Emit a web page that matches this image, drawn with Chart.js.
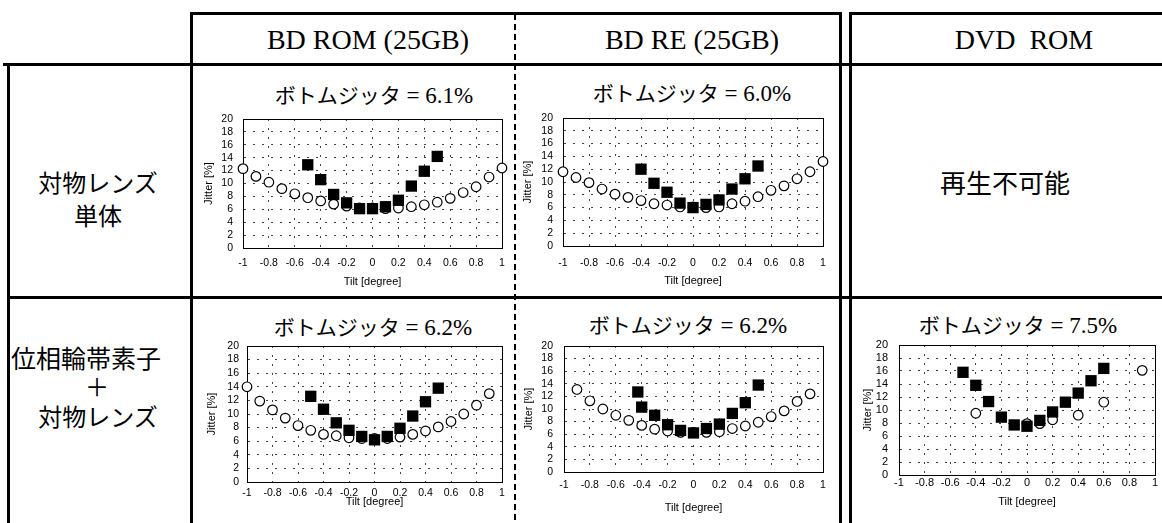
<!DOCTYPE html>
<html>
<head>
<meta charset="utf-8">
<script src="https://cdn.jsdelivr.net/npm/chart.js@4.4.1/dist/chart.umd.min.js"></script>
<style>
  html, body { margin: 0; padding: 0; background: #fff; }
  #page { position: relative; width: 1162px; height: 523px; overflow: hidden; background: #fff; }
  .ln { position: absolute; background: #000; }
  .dash { position: absolute; width: 2px;
          background: repeating-linear-gradient(to bottom, #000 0 6px, transparent 6px 10px); }
  .txt { position: absolute; transform: translate(-50%, -50%); white-space: pre; line-height: 1; color: #000; }
  .hd { font-family: "Liberation Serif", "Times New Roman", serif; font-size: 28px; }
  .jp { font-family: "Noto Sans CJK JP", sans-serif; }
  span.k { font-family: "Noto Sans CJK JP", sans-serif; font-size: 21px; }
  span.v { font-family: "Liberation Serif", "Times New Roman", serif; font-size: 23px; }
  canvas.plot { position: absolute; }
</style>
</head>
<body>
<div id="page">
  <!-- table frame -->
  <div class="ln" style="left:190px;top:12px;width:652px;height:3px"></div>
  <div class="ln" style="left:190px;top:12px;width:3px;height:511px"></div>
  <div class="ln" style="left:839px;top:12px;width:3px;height:511px"></div>
  <div class="ln" style="left:849px;top:12px;width:313px;height:3px"></div>
  <div class="ln" style="left:849px;top:12px;width:3px;height:511px"></div>
  <div class="ln" style="left:3px;top:63px;width:1159px;height:3px"></div>
  <div class="ln" style="left:7px;top:296px;width:1155px;height:3px"></div>
  <div class="ln" style="left:7px;top:63px;width:3px;height:460px"></div>
  <div class="dash" style="left:514px;top:14px;height:509px"></div>

  <!-- column headers -->
  <div class="txt hd" style="left:368px;top:40px">BD ROM (25GB)</div>
  <div class="txt hd" style="left:692px;top:40px">BD RE (25GB)</div>
  <div class="txt hd" style="left:1024px;top:40px">DVD  ROM</div>

  <!-- row headers -->
  <div class="txt jp" style="left:98px;top:182px;font-size:24px">対物レンズ</div>
  <div class="txt jp" style="left:98px;top:215px;font-size:24px">単体</div>
  <div class="txt jp" style="left:86px;top:357px;font-size:25px">位相輪帯素子</div>
  <div class="txt jp" style="left:97px;top:386px;font-size:24px">＋</div>
  <div class="txt jp" style="left:98px;top:416px;font-size:24px">対物レンズ</div>
  <div class="txt jp" style="left:1005px;top:182px;font-size:26px">再生不可能</div>

  <!-- panel titles -->
  <div class="txt" id="t0" style="left:374px;top:95px"></div>
  <div class="txt" id="t1" style="left:692px;top:93px"></div>
  <div class="txt" id="t2" style="left:373px;top:327px"></div>
  <div class="txt" id="t3" style="left:688px;top:325px"></div>
  <div class="txt" id="t4" style="left:1018px;top:325px"></div>

  <canvas class="plot" id="c0" width="323" height="194" style="left:199px;top:99px"></canvas>
  <canvas class="plot" id="c1" width="324" height="194" style="left:519px;top:98px"></canvas>
  <canvas class="plot" id="c2" width="319" height="187" style="left:203px;top:326px"></canvas>
  <canvas class="plot" id="c3" width="323" height="193" style="left:520px;top:326px"></canvas>
  <canvas class="plot" id="c4" width="320" height="188" style="left:855px;top:325px"></canvas>
</div>

<script>
// Axis ticks
const tiltTicks = [-1, -0.8, -0.6, -0.4, -0.2, 0, 0.2, 0.4, 0.6, 0.8, 1];
const tiltTickLabels = ['-1', '-0.8', '-0.6', '-0.4', '-0.2', '0', '0.2', '0.4', '0.6', '0.8', '1'];
const jitterTicks = [0, 2, 4, 6, 8, 10, 12, 14, 16, 18, 20];
const jitterTickLabels = ['0', '2', '4', '6', '8', '10', '12', '14', '16', '18', '20'];

// Bottom jitter [%] per panel
const bottomJitter = [6.1, 6.0, 6.2, 6.2, 7.5];

// BD ROM, objective lens only
const bdRomLensCircleTilt = [-1.0, -0.9, -0.8, -0.7, -0.6, -0.5, -0.4, -0.3, -0.2, -0.1, 0, 0.1, 0.2, 0.3, 0.4, 0.5, 0.6, 0.7, 0.8, 0.9, 1.0];
const bdRomLensCircle     = [12.3, 11.1, 10.2, 9.2, 8.4, 7.8, 7.3, 6.8, 6.5, 6.2, 6.2, 6.1, 6.2, 6.4, 6.7, 7.1, 7.7, 8.6, 9.5, 11.0, 12.4];
const bdRomLensSquareTilt = [-0.5, -0.4, -0.3, -0.2, -0.1, 0, 0.1, 0.2, 0.3, 0.4, 0.5];
const bdRomLensSquare     = [12.9, 10.6, 8.3, 7.0, 6.1, 6.1, 6.4, 7.4, 9.6, 11.9, 14.2];

// BD RE, objective lens only
const bdReLensCircleTilt = [-1.0, -0.9, -0.8, -0.7, -0.6, -0.5, -0.4, -0.3, -0.2, -0.1, 0, 0.1, 0.2, 0.3, 0.4, 0.5, 0.6, 0.7, 0.8, 0.9, 1.0];
const bdReLensCircle     = [11.6, 10.7, 9.9, 8.9, 8.1, 7.6, 7.1, 6.6, 6.4, 6.1, 6.1, 6.0, 6.1, 6.6, 7.0, 7.7, 8.7, 9.4, 10.5, 11.6, 13.2];
const bdReLensSquareTilt = [-0.4, -0.3, -0.2, -0.1, 0, 0.1, 0.2, 0.3, 0.4, 0.5];
const bdReLensSquare     = [12.0, 9.8, 8.4, 6.7, 6.0, 6.5, 7.2, 8.9, 10.5, 12.5];

// BD ROM, zone plate + objective lens
const bdRomZoneCircleTilt = [-1.0, -0.9, -0.8, -0.7, -0.6, -0.5, -0.4, -0.3, -0.2, -0.1, 0, 0.1, 0.2, 0.3, 0.4, 0.5, 0.6, 0.7, 0.8, 0.9];
const bdRomZoneCircle     = [14.0, 11.9, 10.6, 9.4, 8.3, 7.6, 7.0, 6.8, 6.5, 6.4, 6.4, 6.4, 6.6, 7.0, 7.5, 8.1, 8.9, 10.0, 11.3, 13.0];
const bdRomZoneSquareTilt = [-0.5, -0.4, -0.3, -0.2, -0.1, 0, 0.1, 0.2, 0.3, 0.4, 0.5];
const bdRomZoneSquare     = [12.6, 10.7, 8.7, 7.6, 6.7, 6.2, 6.7, 7.9, 9.7, 11.8, 13.8];

// BD RE, zone plate + objective lens
const bdReZoneCircleTilt = [-0.9, -0.8, -0.7, -0.6, -0.5, -0.4, -0.3, -0.2, -0.1, 0, 0.1, 0.2, 0.3, 0.4, 0.5, 0.6, 0.7, 0.8, 0.9];
const bdReZoneCircle     = [13.1, 11.3, 10.0, 9.0, 8.2, 7.4, 6.8, 6.5, 6.3, 6.3, 6.3, 6.4, 6.9, 7.3, 7.9, 8.8, 9.7, 11.2, 12.4];
const bdReZoneSquareTilt = [-0.43, -0.4, -0.3, -0.2, -0.1, 0, 0.1, 0.2, 0.3, 0.4, 0.5];
const bdReZoneSquare     = [12.7, 10.3, 9.0, 7.5, 6.6, 6.2, 6.9, 7.6, 9.3, 11.0, 13.8];

// DVD ROM, zone plate + objective lens
const dvdZoneCircleTilt = [-0.4, 0, 0.1, 0.2, 0.4, 0.6, 0.9];
const dvdZoneCircle     = [9.5, 7.9, 7.9, 8.5, 9.2, 11.2, 16.1];
const dvdZoneSquareTilt = [-0.5, -0.4, -0.3, -0.2, -0.1, 0, 0.1, 0.2, 0.3, 0.4, 0.5, 0.6];
const dvdZoneSquare     = [15.8, 13.8, 11.3, 8.9, 7.7, 7.5, 8.4, 9.7, 11.2, 12.6, 14.5, 16.4];

// Panel titles
bottomJitter.forEach((v, i) => {
  document.getElementById('t' + i).innerHTML =
    '<span class="k">ボトムジッタ</span><span class="v"> = ' + v.toFixed(1) + '%</span>';
});

// Solid frame round the plot area
const plotFrame = {
  id: 'plotFrame',
  beforeDatasetsDraw(chart) {
    const { ctx, chartArea: a } = chart;
    ctx.save();
    ctx.strokeStyle = '#000';
    ctx.lineWidth = 1;
    ctx.strokeRect(Math.round(a.left) + 0.5, Math.round(a.top) + 0.5,
                   Math.round(a.right - a.left), Math.round(a.bottom - a.top));
    ctx.restore();
  }
};

function pts(xs, ys) { return xs.map((x, i) => ({ x: x, y: ys[i] })); }

function panel(id, sqX, sqY, ciX, ciY, lay) {
  const tickFont = { family: '"Liberation Sans", Arial, sans-serif', size: lay.font };
  const titleFont = { family: '"Liberation Sans", Arial, sans-serif', size: 11 };
  new Chart(document.getElementById(id), {
    type: 'scatter',
    data: {
      datasets: [
        { data: pts(sqX, sqY), pointStyle: 'rect', pointRadius: 8, backgroundColor: '#000',
          borderColor: '#000', borderWidth: 0, clip: false },
        { data: pts(ciX, ciY), pointStyle: 'circle', pointRadius: 4.8, backgroundColor: '#fff',
          borderColor: '#000', borderWidth: 1.2, clip: false }
      ]
    },
    options: {
      responsive: false, animation: false, events: [],
      layout: { autoPadding: false, padding: { left: 0, top: 20, right: 20, bottom: 0 } },
      plugins: { legend: { display: false }, tooltip: { enabled: false } },
      scales: {
        x: {
          type: 'linear', min: -1, max: 1,
          afterBuildTicks: s => { s.ticks = tiltTicks.map(v => ({ value: v })); },
          afterFit: s => { s.height = lay.xH; },
          ticks: { padding: lay.xPad, font: tickFont, color: '#000', maxRotation: 0, autoSkip: false,
                   callback: (v, i) => tiltTickLabels[i] },
          grid: { color: '#444', lineWidth: 1, drawTicks: false },
          border: { color: '#000', width: 1, dash: [2, 7] },
          title: { display: true, text: 'Tilt [degree]', font: titleFont, color: '#000', padding: { top: 0, bottom: 4 } }
        },
        y: {
          type: 'linear', min: 0, max: 20,
          afterBuildTicks: s => { s.ticks = jitterTicks.map(v => ({ value: v })); },
          afterFit: s => { s.width = 44; },
          ticks: { padding: lay.yPad, font: tickFont, color: '#000', autoSkip: false,
                   callback: (v, i) => jitterTickLabels[i] },
          grid: { color: '#444', lineWidth: 1, drawTicks: false },
          border: { color: '#000', width: 1, dash: [2, 7] },
          title: { display: true, text: 'Jitter [%]', font: titleFont, color: '#000', padding: { top: lay.yTitlePad, bottom: 0 } }
        }
      }
    },
    plugins: [plotFrame]
  });
}

panel('c0', bdRomLensSquareTilt, bdRomLensSquare, bdRomLensCircleTilt, bdRomLensCircle,
      { xH: 45, xPad: 8.7, yPad: 10, yTitlePad: 3.4, font: 10.5 });
panel('c1', bdReLensSquareTilt, bdReLensSquare, bdReLensCircleTilt, bdReLensCircle,
      { xH: 46, xPad: 10.7, yPad: 10, yTitlePad: 2.4, font: 10.5 });
panel('c2', bdRomZoneSquareTilt, bdRomZoneSquare, bdRomZoneCircleTilt, bdRomZoneCircle,
      { xH: 31, xPad: 4.7, yPad: 8, yTitlePad: 2.4, font: 10.5 });
panel('c3', bdReZoneSquareTilt, bdReZoneSquare, bdReZoneCircleTilt, bdReZoneCircle,
      { xH: 47, xPad: 6.7, yPad: 11, yTitlePad: 2.4, font: 10.5 });
panel('c4', dvdZoneSquareTilt, dvdZoneSquare, dvdZoneCircleTilt, dvdZoneCircle,
      { xH: 38, xPad: 1.7, yPad: 11, yTitlePad: 6.4, font: 11 });
</script>
</body>
</html>
